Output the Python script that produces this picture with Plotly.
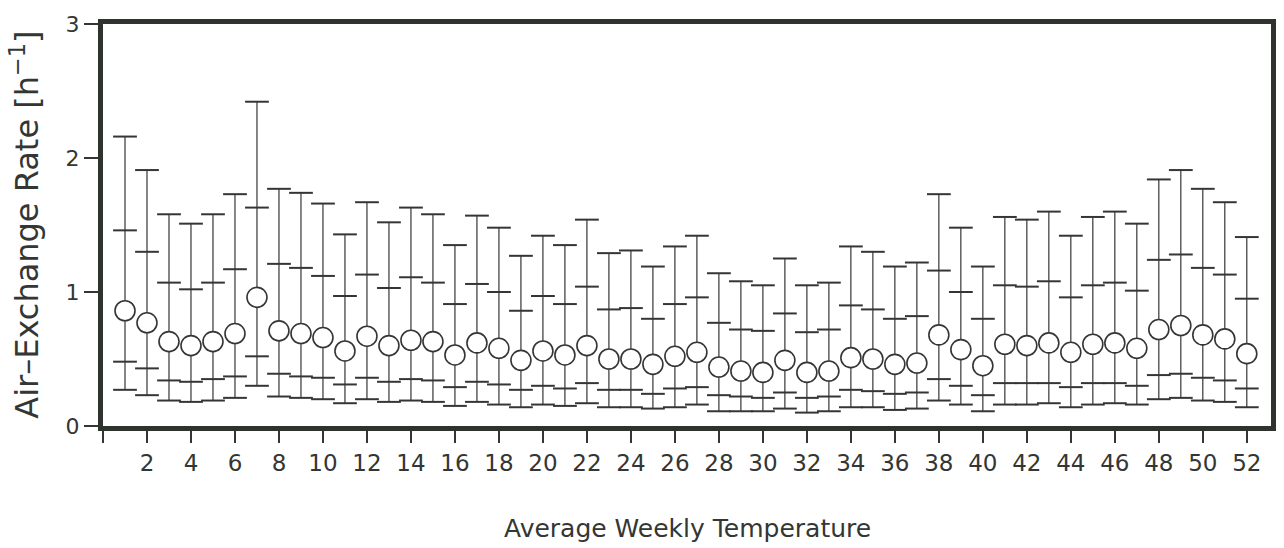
import plotly.graph_objects as go

weeks = list(range(1, 53))

top_whisker = [2.16, 1.91, 1.58, 1.51, 1.58, 1.73, 2.42, 1.77, 1.74, 1.66,
               1.43, 1.67, 1.52, 1.63, 1.58, 1.35, 1.57, 1.48, 1.27, 1.42,
               1.35, 1.54, 1.29, 1.31, 1.19, 1.34, 1.42, 1.14, 1.08, 1.05,
               1.25, 1.05, 1.07, 1.34, 1.30, 1.19, 1.22, 1.73, 1.48, 1.19,
               1.56, 1.54, 1.60, 1.42, 1.56, 1.60, 1.51, 1.84, 1.91, 1.77,
               1.67, 1.41]

upper_tick = [1.46, 1.30, 1.07, 1.02, 1.07, 1.17, 1.63, 1.21, 1.18, 1.12,
              0.97, 1.13, 1.03, 1.11, 1.07, 0.91, 1.06, 1.00, 0.86, 0.97,
              0.91, 1.04, 0.87, 0.88, 0.80, 0.91, 0.96, 0.77, 0.72, 0.71,
              0.84, 0.70, 0.72, 0.90, 0.87, 0.80, 0.82, 1.16, 1.00, 0.80,
              1.05, 1.04, 1.08, 0.96, 1.05, 1.07, 1.01, 1.24, 1.28, 1.18,
              1.13, 0.95]

mean_rate = [0.86, 0.77, 0.63, 0.60, 0.63, 0.69, 0.96, 0.71, 0.69, 0.66,
             0.56, 0.67, 0.60, 0.64, 0.63, 0.53, 0.62, 0.58, 0.49, 0.56,
             0.53, 0.60, 0.50, 0.50, 0.46, 0.52, 0.55, 0.44, 0.41, 0.40,
             0.49, 0.40, 0.41, 0.51, 0.50, 0.46, 0.47, 0.68, 0.57, 0.45,
             0.61, 0.60, 0.62, 0.55, 0.61, 0.62, 0.58, 0.72, 0.75, 0.68,
             0.65, 0.54]

lower_tick = [0.48, 0.43, 0.34, 0.33, 0.35, 0.37, 0.52, 0.39, 0.37, 0.36,
              0.31, 0.36, 0.33, 0.35, 0.34, 0.29, 0.33, 0.31, 0.27, 0.30,
              0.28, 0.32, 0.27, 0.27, 0.24, 0.28, 0.29, 0.23, 0.22, 0.21,
              0.25, 0.21, 0.22, 0.27, 0.26, 0.24, 0.25, 0.35, 0.30, 0.23,
              0.32, 0.32, 0.32, 0.29, 0.32, 0.32, 0.30, 0.38, 0.39, 0.36,
              0.34, 0.28]

bottom_whisker = [0.27, 0.23, 0.19, 0.18, 0.19, 0.21, 0.30, 0.22, 0.21, 0.20,
                  0.17, 0.20, 0.18, 0.19, 0.18, 0.15, 0.18, 0.16, 0.14, 0.16,
                  0.15, 0.17, 0.14, 0.14, 0.13, 0.14, 0.16, 0.11, 0.11, 0.11,
                  0.13, 0.10, 0.11, 0.14, 0.14, 0.12, 0.13, 0.19, 0.16, 0.11,
                  0.16, 0.16, 0.17, 0.14, 0.16, 0.17, 0.16, 0.20, 0.21, 0.19,
                  0.18, 0.14]

x_tickvals = list(range(0, 53, 2))
x_ticktext = [" "] + [str(v) for v in range(2, 53, 2)]
y_tickvals = [0, 1, 2, 3]

INK = "#333633"
FONT = "DejaVu Sans, Liberation Sans, sans-serif"

fig = go.Figure()

# vertical whisker lines
fig.add_trace(go.Scatter(
    x=weeks, y=mean_rate, mode="markers",
    marker=dict(size=1, color="rgba(0,0,0,0)"),
    error_y=dict(type="data", symmetric=False,
                 array=[t - m for t, m in zip(top_whisker, mean_rate)],
                 arrayminus=[m - b for m, b in zip(mean_rate, bottom_whisker)],
                 width=0, thickness=1.2, color=INK),
    hoverinfo="skip", showlegend=False))

# horizontal ticks (caps and inner percentiles)
for series in (top_whisker, upper_tick, lower_tick, bottom_whisker):
    fig.add_trace(go.Scatter(
        x=weeks, y=series, mode="markers",
        marker=dict(symbol="line-ew", size=17, line=dict(width=2, color=INK)),
        hoverinfo="skip", showlegend=False))

# open circles for the mean
fig.add_trace(go.Scatter(
    x=weeks, y=mean_rate, mode="markers",
    marker=dict(symbol="circle", size=20, color="white",
                line=dict(width=1.6, color=INK)),
    showlegend=False))

fig.update_layout(
    width=1284, height=548,
    margin=dict(l=103, r=8, t=24, b=122),
    paper_bgcolor="white", plot_bgcolor="white",
    font=dict(family=FONT, color=INK),
    xaxis=dict(range=[0, 53.1], tickmode="array", tickvals=x_tickvals,
               ticktext=x_ticktext, ticks="outside", ticklen=12, tickwidth=1.5,
               tickcolor=INK, showline=True, linewidth=5, linecolor="#2e332e",
               mirror=True, showgrid=False, zeroline=False,
               tickfont=dict(size=23, family=FONT, color=INK)),
    yaxis=dict(range=[0, 3], tickmode="array", tickvals=y_tickvals,
               ticks="outside", ticklen=14, tickwidth=1.5, tickcolor=INK,
               showline=True, linewidth=5, linecolor="#2e332e", mirror=True,
               showgrid=False, zeroline=False,
               tickfont=dict(size=22, family=FONT, color=INK)),
    annotations=[
        dict(text="Average Weekly Temperature", xref="paper", yref="paper",
             x=0.5, y=-0.255, xanchor="center", yanchor="middle",
             showarrow=False, font=dict(size=25, family=FONT, color=INK)),
        dict(text="Air\u2013Exchange Rate [h<sup>\u22121</sup>]", xref="paper",
             yref="paper", x=-0.067, y=0.5, xanchor="center", yanchor="middle",
             textangle=-90, showarrow=False,
             font=dict(size=32, family=FONT, color=INK)),
    ],
)

fig.write_html("out.html",
               config={"displayModeBar": False},
               post_script="document.body.style.margin='0';document.body.style.overflow='hidden';")
